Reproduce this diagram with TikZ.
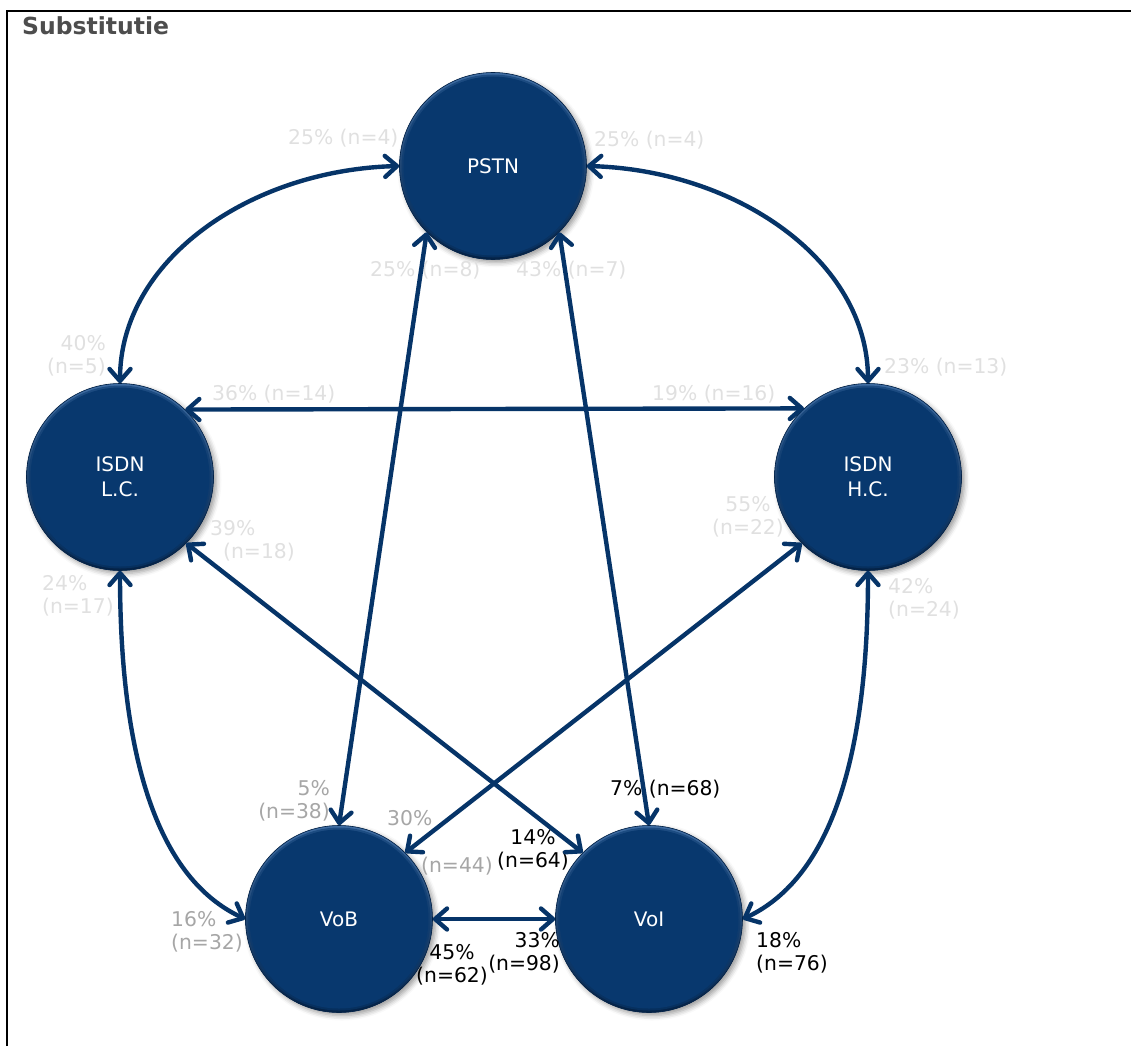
\documentclass[tikz,border=0pt]{standalone}
\usepackage{fontspec}
\setmainfont{DejaVu Sans}
\usetikzlibrary{arrows.meta,shadows.blur}
\definecolor{nodeblue}{RGB}{8,56,110}
\definecolor{rimtop}{RGB}{62,108,162}
\definecolor{rimbot}{RGB}{4,34,70}
\definecolor{linkblue}{RGB}{6,52,104}
\definecolor{palegray}{RGB}{224,224,224}
\definecolor{midgray}{RGB}{166,166,166}
\definecolor{titlegray}{RGB}{77,77,77}
\begin{document}
\begin{tikzpicture}[x=1pt,y=-1pt,
  bubble/.style={circle, minimum size=187pt, inner sep=0pt, align=center, text=white,
    font=\fontsize{20}{25}\selectfont, fill=nodeblue, draw=rimbot, line width=0.6pt,
    blur shadow={shadow xshift=3pt, shadow yshift=-3pt, shadow blur radius=5pt, shadow opacity=40},
    path picture={
      \shade[top color=rimtop, bottom color=rimbot]
        (path picture bounding box.south west) rectangle (path picture bounding box.north east);
      \fill[nodeblue, opacity=0.6] (path picture bounding box.center) circle (91.5pt);
      \fill[nodeblue] (path picture bounding box.center) circle (89.5pt);
    }},
  lbl/.style={inner sep=0pt, font=\fontsize{20.3}{23.5}\selectfont},
  pale/.style={lbl, text=palegray},
  mid/.style={lbl, text=midgray},
  dark/.style={lbl, text=black},
  link/.style={draw=linkblue, line width=4.4pt, line cap=round,
    >={Straight Barb[length=12pt,width=21pt,round]}, <->}
]
\useasboundingbox (0,0) rectangle (1131,1046);

% frame and title
\draw[line width=2.5pt] (7,1046) -- (7,11) -- (1131,11);
\node[anchor=base west, inner sep=0pt, text=titlegray,
  font=\bfseries\fontsize{23.5}{27}\selectfont] (title) at (22,35) {Substitutie};

% the five services
\node[bubble] (pstn) at (493,166) {PSTN};
\node[bubble] (lc)   at (120,477) {ISDN\\L.C.};
\node[bubble] (hc)   at (868,477) {ISDN\\H.C.};
\node[bubble] (vob)  at (339,919) {VoB};
\node[bubble] (voi)  at (649,919) {VoI};

% substitution shares
\node[pale, anchor=west] (p1) at (288,138) {25\% (n=4)};
\node[pale, anchor=west] (p2) at (594,140) {25\% (n=4)};
\node[pale, anchor=west] (p3) at (370,270) {25\% (n=8)};
\node[pale, anchor=west] (p4) at (516,270) {43\% (n=7)};
\node[pale, anchor=east, align=right] (p5) at (106,356) {40\%\\(n=5)};
\node[pale, anchor=west] (p6) at (212,394) {36\% (n=14)};
\node[pale, anchor=west] (p7) at (652,394) {19\% (n=16)};
\node[pale, anchor=west] (p8) at (884,367) {23\% (n=13)};
\node[pale, anchor=west, align=left] (p9) at (210,541) {39\%\\\hspace*{13pt}(n=18)};
\node[pale, align=center] (p10) at (748,517) {55\%\\(n=22)};
\node[pale, anchor=west, align=left] (p11) at (42,596) {24\%\\(n=17)};
\node[pale, anchor=west, align=left] (p12) at (888,599) {42\%\\(n=24)};

\node[mid, anchor=east, align=right] (m1) at (330,801) {5\%\\(n=38)};
\node[mid, anchor=west] (m2) at (387,818) {30\%};
\node[mid, anchor=west] (m3) at (421,866) {(n=44)};
\node[mid, anchor=west, align=left] (m4) at (171,932) {16\%\\(n=32)};

\node[dark, anchor=west] (d1) at (610,789) {7\% (n=68)};
\node[dark, align=center] (d2) at (533,850) {14\%\\(n=64)};
\node[dark, align=center] (d3) at (452,965) {45\%\\(n=62)};
\node[dark, anchor=east, align=right] (d4) at (560,953) {33\%\\(n=98)};
\node[dark, anchor=west, align=left] (d5) at (756,953) {18\%\\(n=76)};

% connectors
\draw[link] (pstn.west) .. controls (250,170) and (120,260) .. (lc.north);
\draw[link] (pstn.east) .. controls (736,170) and (868,260) .. (hc.north);
\draw[link] (pstn.-135) -- (vob.north);
\draw[link] (pstn.-45) -- (voi.north);
\draw[link] (lc.46.7) -- (hc.133.3);
\draw[link] (lc.-45) -- (voi.135);
\draw[link] (hc.-135) -- (vob.45);
\draw[link] (lc.south) .. controls (120,790) and (172,885) .. (vob.west);
\draw[link] (hc.south) .. controls (868,790) and (816,885) .. (voi.east);
\draw[link] (vob.east) -- (voi.west);
\end{tikzpicture}
\end{document}
